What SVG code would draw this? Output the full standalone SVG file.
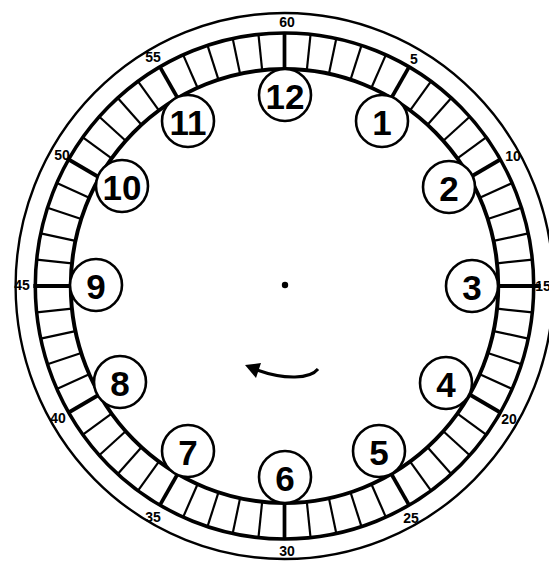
<svg xmlns="http://www.w3.org/2000/svg" width="549" height="562" viewBox="0 0 549 562">
<style>
.ring{fill:none;stroke:#000}
.t{stroke:#000;stroke-width:2.2}
.T{stroke:#000;stroke-width:3.8}
.lab{font-family:"Liberation Sans",Arial,sans-serif;font-weight:bold;font-size:14px;text-anchor:middle;dominant-baseline:central}
.num circle{fill:#fff;stroke:#000;stroke-width:2.6}
.num text{font-family:"Liberation Sans",Arial,sans-serif;font-weight:bold;font-size:35px;text-anchor:middle;dominant-baseline:central}
</style>
<rect width="549" height="562" fill="#fff"/>
<g id="dial" transform="translate(284.5,286) scale(0.985,1)">
<circle class="ring" r="273" stroke-width="2.4"/>
<circle class="ring" r="253" stroke-width="3.6"/>
<circle class="ring" r="217" stroke-width="4"/>
<g id="ticks">
<line class="T" y1="-217" y2="-253" transform="rotate(0)"/>
<line class="t" y1="-217" y2="-253" transform="rotate(6)"/>
<line class="t" y1="-217" y2="-253" transform="rotate(12)"/>
<line class="t" y1="-217" y2="-253" transform="rotate(18)"/>
<line class="t" y1="-217" y2="-253" transform="rotate(24)"/>
<line class="T" y1="-217" y2="-253" transform="rotate(30)"/>
<line class="t" y1="-217" y2="-253" transform="rotate(36)"/>
<line class="t" y1="-217" y2="-253" transform="rotate(42)"/>
<line class="t" y1="-217" y2="-253" transform="rotate(48)"/>
<line class="t" y1="-217" y2="-253" transform="rotate(54)"/>
<line class="T" y1="-217" y2="-253" transform="rotate(60)"/>
<line class="t" y1="-217" y2="-253" transform="rotate(66)"/>
<line class="t" y1="-217" y2="-253" transform="rotate(72)"/>
<line class="t" y1="-217" y2="-253" transform="rotate(78)"/>
<line class="t" y1="-217" y2="-253" transform="rotate(84)"/>
<line class="T" y1="-217" y2="-260" transform="rotate(90)"/>
<line class="t" y1="-217" y2="-253" transform="rotate(96)"/>
<line class="t" y1="-217" y2="-253" transform="rotate(102)"/>
<line class="t" y1="-217" y2="-253" transform="rotate(108)"/>
<line class="t" y1="-217" y2="-253" transform="rotate(114)"/>
<line class="T" y1="-217" y2="-253" transform="rotate(120)"/>
<line class="t" y1="-217" y2="-253" transform="rotate(126)"/>
<line class="t" y1="-217" y2="-253" transform="rotate(132)"/>
<line class="t" y1="-217" y2="-253" transform="rotate(138)"/>
<line class="t" y1="-217" y2="-253" transform="rotate(144)"/>
<line class="T" y1="-217" y2="-253" transform="rotate(150)"/>
<line class="t" y1="-217" y2="-253" transform="rotate(156)"/>
<line class="t" y1="-217" y2="-253" transform="rotate(162)"/>
<line class="t" y1="-217" y2="-253" transform="rotate(168)"/>
<line class="t" y1="-217" y2="-253" transform="rotate(174)"/>
<line class="T" y1="-217" y2="-253" transform="rotate(180)"/>
<line class="t" y1="-217" y2="-253" transform="rotate(186)"/>
<line class="t" y1="-217" y2="-253" transform="rotate(192)"/>
<line class="t" y1="-217" y2="-253" transform="rotate(198)"/>
<line class="t" y1="-217" y2="-253" transform="rotate(204)"/>
<line class="T" y1="-217" y2="-253" transform="rotate(210)"/>
<line class="t" y1="-217" y2="-253" transform="rotate(216)"/>
<line class="t" y1="-217" y2="-253" transform="rotate(222)"/>
<line class="t" y1="-217" y2="-253" transform="rotate(228)"/>
<line class="t" y1="-217" y2="-253" transform="rotate(234)"/>
<line class="T" y1="-217" y2="-253" transform="rotate(240)"/>
<line class="t" y1="-217" y2="-253" transform="rotate(246)"/>
<line class="t" y1="-217" y2="-253" transform="rotate(252)"/>
<line class="t" y1="-217" y2="-253" transform="rotate(258)"/>
<line class="t" y1="-217" y2="-253" transform="rotate(264)"/>
<line class="T" y1="-217" y2="-255" transform="rotate(270)"/>
<line class="t" y1="-217" y2="-253" transform="rotate(276)"/>
<line class="t" y1="-217" y2="-253" transform="rotate(282)"/>
<line class="t" y1="-217" y2="-253" transform="rotate(288)"/>
<line class="t" y1="-217" y2="-253" transform="rotate(294)"/>
<line class="T" y1="-217" y2="-253" transform="rotate(300)"/>
<line class="t" y1="-217" y2="-253" transform="rotate(306)"/>
<line class="t" y1="-217" y2="-253" transform="rotate(312)"/>
<line class="t" y1="-217" y2="-253" transform="rotate(318)"/>
<line class="t" y1="-217" y2="-253" transform="rotate(324)"/>
<line class="T" y1="-217" y2="-253" transform="rotate(330)"/>
<line class="t" y1="-217" y2="-253" transform="rotate(336)"/>
<line class="t" y1="-217" y2="-253" transform="rotate(342)"/>
<line class="t" y1="-217" y2="-253" transform="rotate(348)"/>
<line class="t" y1="-217" y2="-253" transform="rotate(354)"/>
</g>
</g>
<g id="minute-labels" class="lab">
<text x="287" y="22">60</text>
<text x="414" y="59">5</text>
<text x="513" y="156">10</text>
<text x="543" y="286">15</text>
<text x="509" y="419">20</text>
<text x="411" y="518">25</text>
<text x="287" y="551">30</text>
<text x="153" y="517">35</text>
<text x="58" y="418">40</text>
<text x="22" y="285">45</text>
<text x="62" y="155">50</text>
<text x="153" y="57">55</text>
</g>
<g id="n12" class="num"><circle cx="285" cy="95" r="26"/><text x="285" y="96">12</text></g>
<g id="n1" class="num"><circle cx="382" cy="121" r="26"/><text x="382" y="122">1</text></g>
<g id="n2" class="num"><circle cx="449" cy="187" r="26"/><text x="449" y="188">2</text></g>
<g id="n3" class="num"><circle cx="472" cy="286" r="26"/><text x="472" y="287">3</text></g>
<g id="n4" class="num"><circle cx="446" cy="383" r="26"/><text x="446" y="384">4</text></g>
<g id="n5" class="num"><circle cx="379" cy="451" r="26"/><text x="379" y="452">5</text></g>
<g id="n6" class="num"><circle cx="285" cy="477" r="26"/><text x="285" y="478">6</text></g>
<g id="n7" class="num"><circle cx="188" cy="451" r="26"/><text x="188" y="452">7</text></g>
<g id="n8" class="num"><circle cx="120" cy="382" r="26"/><text x="120" y="383">8</text></g>
<g id="n9" class="num"><circle cx="96" cy="285" r="26"/><text x="96" y="286">9</text></g>
<g id="n10" class="num"><circle cx="122" cy="186" r="26"/><text x="122" y="187">10</text></g>
<g id="n11" class="num"><circle cx="188" cy="121" r="26"/><text x="188" y="122">11</text></g>
<g id="center"><circle cx="285" cy="285" r="3.2" fill="#000"/></g>
<g id="connectors">
<path d="M318,369 C310,379 285,380 257,370" fill="none" stroke="#000" stroke-width="3"/>
<polygon points="245,365 261,363 256,378" fill="#000"/>
</g>
</svg>
